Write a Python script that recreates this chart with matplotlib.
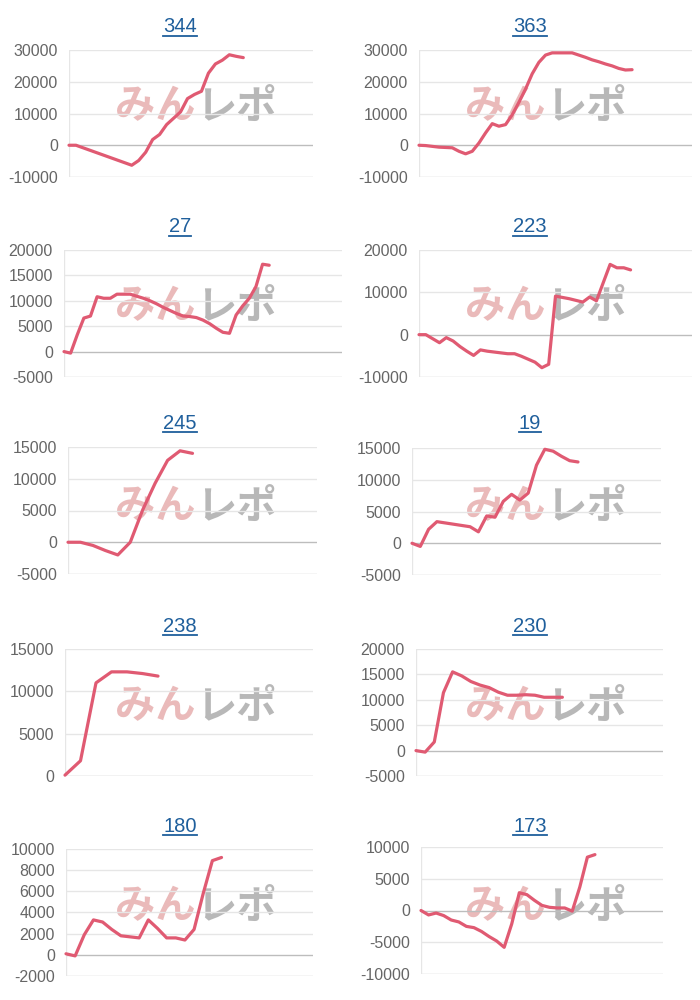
import matplotlib
matplotlib.use('Agg')
import matplotlib.pyplot as plt
from matplotlib.lines import Line2D

plt.rcParams['font.family'] = ['Liberation Sans', 'DejaVu Sans']

# chart titles (machine numbers)
titles = ['344', '363', '27', '223', '245', '19', '238', '230', '180', '173']

# x = game index, y = coin difference
x344 = [0, 1, 9, 10, 11, 12, 13, 14, 15, 16, 17, 18, 19, 20, 21, 22, 23, 24, 25]
y344 = [0, 0, -6300, -4800, -2200, 1800, 3400, 6500, 8500, 10500, 14700, 16000, 17000,
        22700, 25600, 26800, 28500, 28000, 27600]

x363 = [0, 1, 3, 5, 6, 7, 8, 9, 10, 11, 12, 13, 14, 15, 16, 17, 18, 19, 20, 21, 22, 23,
        24, 25, 26, 27, 28, 29, 30, 31, 32]
y363 = [0, -100, -600, -800, -1900, -2700, -1900, 700, 3900, 6800, 6000, 6500, 9600,
        13500, 17700, 22500, 26100, 28400, 29100, 29100, 29100, 29100, 28400, 27700,
        26900, 26300, 25600, 25000, 24200, 23700, 23800]

x27 = [0, 1, 2, 3, 4, 5, 6, 7, 8, 9, 10, 11, 12, 13, 14, 15, 16, 17, 18, 19, 20, 21, 22,
       23, 24, 25, 26, 27, 28, 29, 30, 31]
y27 = [0, -300, 3300, 6600, 7000, 10800, 10500, 10500, 11300, 11300, 11300, 10900, 10500,
       10000, 9400, 8700, 8100, 7500, 7000, 6900, 6700, 6200, 5500, 4600, 3800, 3600,
       7200, 9000, 10500, 12800, 17200, 17000]

x223 = [0, 1, 3, 4, 5, 6, 7, 8, 9, 10, 11, 12, 13, 14, 15, 16, 17, 18, 19, 20, 21, 22,
        23, 24, 25, 26, 28, 29, 30, 31]
y223 = [0, 0, -1900, -700, -1500, -2800, -3900, -4900, -3600, -3900, -4100, -4300, -4500,
        -4500, -5100, -5800, -6500, -7800, -7000, 9100, 8800, 8500, 8100, 7700, 8900, 8000,
        16600, 15800, 15800, 15300]

x245 = [0, 1, 2, 3, 4, 5, 6, 7, 8, 9, 10]
y245 = [0, 0, -500, -1300, -2000, 0, 5100, 9300, 12900, 14400, 14000]

x19 = list(range(21))
y19 = [0, -500, 2200, 3400, 3200, 3000, 2800, 2600, 1800, 4300, 4100, 6600, 7700, 6800,
       7900, 12300, 14800, 14500, 13700, 13000, 12800]

x238 = [0, 1, 2, 3, 4, 5, 6]
y238 = [100, 1800, 11000, 12300, 12300, 12100, 11800]

x230 = list(range(17))
y230 = [0, -300, 1700, 11400, 15500, 14700, 13600, 12900, 12400, 11500, 10900, 10900,
        11000, 10900, 10500, 10500, 10500]

x180 = list(range(18))
y180 = [100, -100, 1900, 3300, 3100, 2400, 1800, 1700, 1600, 3300, 2500, 1600, 1600, 1400,
        2400, 5800, 8900, 9200]

x173 = list(range(24))
y173 = [0, -700, -400, -800, -1500, -1800, -2500, -2700, -3300, -4100, -4800, -5800, -2100,
        2800, 2500, 1600, 800, 500, 400, 400, -100, 3700, 8400, 8800]

xs = [x344, x363, x27, x223, x245, x19, x238, x230, x180, x173]
ys = [y344, y363, y27, y223, y245, y19, y238, y230, y180, y173]
xmax = [35, 41, 42, 40, 20, 30, 16, 27, 27, 32]
yranges = [(-10000, 30000, 10000), (-10000, 30000, 10000), (-5000, 20000, 5000),
           (-10000, 20000, 10000), (-5000, 15000, 5000), (-5000, 15000, 5000),
           (0, 15000, 5000), (-5000, 20000, 5000), (-2000, 10000, 2000),
           (-10000, 10000, 5000)]

# axes boxes in pixels: left, right, top, bottom
boxes = [(69, 313, 50, 177), (419, 692, 50, 177), (64, 342, 250, 377), (419, 692, 250, 377),
         (68, 317, 447, 574), (412, 661, 448, 575), (65, 313, 649, 776), (416, 663, 649, 776),
         (66, 313, 849, 976), (421, 663, 847, 974)]
title_y = [27, 27, 227, 227, 424, 424, 626, 626, 826, 826]

W, H = 700, 1000
fig = plt.figure(figsize=(7, 10), dpi=100)
fig.patch.set_facecolor('white')

line_color = '#e05a72'
title_color = '#1f5f9c'
title_texts = []

for i in range(10):
    l, r, t, b = boxes[i]
    ax = fig.add_axes([l / W, 1 - b / H, (r - l) / W, (b - t) / H])
    ax.set_facecolor('none')
    ax.set_zorder(1)
    lo, hi, step = yranges[i]
    ticks = list(range(lo, hi + 1, step))
    ax.set_ylim(lo, hi)
    ax.set_xlim(0, xmax[i])
    for tk in ticks:
        if tk == 0:
            ax.axhline(0, color='#bdbdbd', lw=1.0, zorder=1)
        elif tk == lo:
            ax.axhline(tk, color='#cfcfcf', lw=1.0, zorder=1)
        else:
            ax.axhline(tk, color='#e6e6e6', lw=1.0, zorder=1)
    ax.axvline(0, color='#e6e6e6', lw=1.0, zorder=1)
    ax.set_yticks(ticks)
    ax.set_yticklabels([str(tk) for tk in ticks])
    ax.tick_params(axis='y', length=0, pad=8, labelsize=11.5, labelcolor='#666666')
    ax.set_xticks([])
    for s in ax.spines.values():
        s.set_visible(False)
    ax.plot(xs[i], ys[i], color=line_color, lw=2.3, solid_joinstyle='round',
            solid_capstyle='round', zorder=3, clip_on=False)

    col = i % 2
    row = i // 2
    cx = 180 if col == 0 else 530
    tt = fig.text(cx / W, 1 - title_y[i] / H, titles[i], ha='center', va='center',
                  fontsize=14.5, color=title_color)
    title_texts.append(tt)

    # watermark
    wy = 1 - (107 + 200 * row) / H
    off = 0 if col == 0 else 350
    fig.text((155 + off) / W, wy, 'みん', ha='center', va='center', fontsize=29,
             fontweight='bold', color='#eababa', family=['Noto Sans CJK JP'], zorder=0)
    fig.text((236 + off) / W, wy, 'レポ', ha='center', va='center', fontsize=29,
             fontweight='bold', color='#b8b8b8', family=['Noto Sans CJK JP'], zorder=0)

# underline the titles like links
fig.canvas.draw()
renderer = fig.canvas.get_renderer()
for tt in title_texts:
    bb = tt.get_window_extent(renderer)
    yline = bb.y0 + 1
    fig.add_artist(Line2D([bb.x0 / W, bb.x1 / W], [yline / H, yline / H],
                          color=title_color, lw=1.3))

fig.savefig('out.png', dpi=100)
